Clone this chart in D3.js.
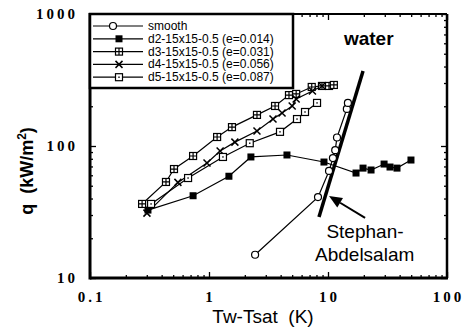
<!DOCTYPE html>
<html><head><meta charset="utf-8">
<script src="https://cdn.jsdelivr.net/npm/d3@7/dist/d3.min.js"></script>
<style>html,body{margin:0;padding:0;background:#fff}</style>
</head><body><svg id="c" width="470" height="328"></svg>
<script>
// ---- data (x = Tw-Tsat in K, y = q in kW/m2) ----
const smooth = [[2.44,15],[8.24,41],[10.2,64.7],[11.0,81],[11.5,93],[11.9,116],[14.4,191],[14.7,212]];
const d2 = [[0.307,32.7],[0.735,42],[1.47,59],[2.25,82.6],[4.52,85.5],[9.25,75.6],[17.2,62.4],[19.7,68],[23,65.8],[29.6,73],[33.2,69.3],[38,68],[49.8,78.3]];
const d3s = [[0.274,36.4],[0.435,53.4],[0.508,66.9],[0.735,84],[1.17,117],[1.56,139],[2.53,172],[3.59,201],[4.7,243],[5.4,248],[7.3,280],[8.9,285],[10.2,285],[11.2,290]];
const d4 = [[0.301,31],[0.548,53],[0.962,74.3],[1.24,91.6],[1.65,107],[2.53,130],[3.45,160],[4.11,178],[5.0,201],[5.4,227],[7.4,261],[8.9,285]];
const d5 = [[0.326,36.4],[0.667,57.2],[1.31,82.6],[2.2,105],[3.95,128],[5.49,160],[6.41,181],[8.09,212]];
const stephan = [[8.4,29],[19.7,370]];
const seriesNames = ["smooth","d2-15x15-0.5 (e=0.014)","d3-15x15-0.5 (e=0.031)","d4-15x15-0.5 (e=0.056)","d5-15x15-0.5 (e=0.087)"];
const seriesMarkers = ["circle","filled","hatched","cross","dotted"];
const xTicks = [0.1,1,10,100];
const xTickLabels = ["0.1","1","10","100"];
const yTicks = [10,100,1000];
const yTickLabels = ["10","100","1000"];
const xTitle = "Tw-Tsat  (K)";
const yTitle = "q  (kW/m";
const annWater = {text:"water", x:13.6, y:582};
const annSA1 = {text:"Stephan-", x:9.7, y:20.1};
const annSA2 = {text:"Abdelsalam", x:7.78, y:13.5};
const arrowFrom = [20.5,28.5], arrowTo = [10.2,41.8];

const series = [smooth,d2,d3s,d4,d5];
const nb = s => s.replace(/ /g,"\u00a0");

const svg = d3.select("#c");
const L=90,R=447,T=14,B=278;
const x = d3.scaleLog().domain([0.1,100]).range([L,R]);
const y = d3.scaleLog().domain([10,1000]).range([B,T]);

const minorX=[], minorY=[];
[0.1,1,10].forEach(d=>{for(let k=2;k<=9;k++) minorX.push(d*k);});
[10,100].forEach(d=>{for(let k=2;k<=9;k++) minorY.push(d*k);});

const g = svg.append("g");
function tickAxis(axisFn, scale, vals, size, transform){
  const a = axisFn(scale).tickValues(vals).tickSize(size).tickFormat("");
  const gg = g.append("g").attr("transform",transform).call(a);
  gg.select(".domain").remove();
  gg.selectAll("line").attr("stroke","#000").attr("stroke-width",1.3);
}
tickAxis(d3.axisBottom, x, xTicks, -6, `translate(0,${B})`);
tickAxis(d3.axisBottom, x, minorX, -3, `translate(0,${B})`);
tickAxis(d3.axisTop, x, xTicks, -6, `translate(0,${T})`);
tickAxis(d3.axisTop, x, minorX, -3, `translate(0,${T})`);
tickAxis(d3.axisLeft, y, yTicks, -6, `translate(${L},0)`);
tickAxis(d3.axisLeft, y, minorY, -3, `translate(${L},0)`);
tickAxis(d3.axisRight, y, yTicks, -6, `translate(${R},0)`);
tickAxis(d3.axisRight, y, minorY, -3, `translate(${R},0)`);

// frame
g.append("line").attr("x1",L).attr("x2",R).attr("y1",T).attr("y2",T).attr("stroke","#000").attr("stroke-width",2);
g.append("line").attr("x1",R).attr("x2",R).attr("y1",T).attr("y2",B).attr("stroke","#000").attr("stroke-width",2.5);
g.append("line").attr("x1",L).attr("x2",R+1).attr("y1",B).attr("y2",B).attr("stroke","#000").attr("stroke-width",3);
g.append("line").attr("x1",L).attr("x2",L).attr("y1",T-1).attr("y2",B+1.5).attr("stroke","#000").attr("stroke-width",3);

// tick labels
const tickFont = "'Liberation Serif','Times New Roman',serif";
g.selectAll(".xl").data(xTicks).enter().append("text")
  .attr("x",d=>x(d)+1.5).attr("y",302).attr("text-anchor","middle")
  .attr("font-family",tickFont).attr("font-weight","bold").attr("font-size",15).attr("letter-spacing",3)
  .text((d,i)=>xTickLabels[i]);
g.selectAll(".yl").data(yTicks).enter().append("text")
  .attr("x",78).attr("y",d=>y(d)+5).attr("text-anchor","end")
  .attr("font-family",tickFont).attr("font-weight","bold").attr("font-size",15).attr("letter-spacing",3)
  .text((d,i)=>yTickLabels[i]);

const sans = "'Liberation Sans',Arial,sans-serif";
// axis titles
g.append("text").attr("x",263).attr("y",323).attr("text-anchor","middle")
  .attr("font-family",sans).attr("font-size",19).text(nb(xTitle));
const yt = g.append("text").attr("transform","translate(33,171) rotate(-90)").attr("text-anchor","middle")
  .attr("font-family",sans).attr("font-weight","bold").attr("font-size",18);
yt.append("tspan").text(nb(yTitle));
yt.append("tspan").attr("dy",-7).attr("font-size",12).text("2");
yt.append("tspan").attr("dy",7).text(")");

// stephan-abdelsalam line
g.append("line").attr("x1",x(stephan[0][0])).attr("y1",y(stephan[0][1]))
  .attr("x2",x(stephan[1][0])).attr("y2",y(stephan[1][1]))
  .attr("stroke","#000").attr("stroke-width",3.5);

// series lines
const line = d3.line().x(d=>x(d[0])).y(d=>y(d[1]));
series.forEach(s=>{
  g.append("path").attr("d",line(s)).attr("fill","none").attr("stroke","#000").attr("stroke-width",1.2);
});

function marker(sel, type, cx, cy){
  const s=3.5;
  if(type==="circle"){
    sel.append("circle").attr("cx",cx).attr("cy",cy).attr("r",3.5).attr("fill","#fff").attr("stroke","#000").attr("stroke-width",1.2);
  } else if(type==="filled"){
    sel.append("rect").attr("x",cx-s).attr("y",cy-s).attr("width",2*s).attr("height",2*s).attr("fill","#000");
  } else if(type==="hatched"){
    sel.append("rect").attr("x",cx-s).attr("y",cy-s).attr("width",2*s).attr("height",2*s).attr("fill","#fff").attr("stroke","#000").attr("stroke-width",1.2);
    sel.append("path").attr("d",`M${cx-s},${cy}H${cx+s}M${cx},${cy-s}V${cy+s}`).attr("stroke","#000").attr("stroke-width",1.2);
  } else if(type==="cross"){
    sel.append("path").attr("d",`M${cx-s},${cy-s}L${cx+s},${cy+s}M${cx-s},${cy+s}L${cx+s},${cy-s}`).attr("stroke","#000").attr("stroke-width",1.5);
  } else if(type==="dotted"){
    sel.append("rect").attr("x",cx-s).attr("y",cy-s).attr("width",2*s).attr("height",2*s).attr("fill","#fff").attr("stroke","#000").attr("stroke-width",1.2);
    sel.append("rect").attr("x",cx-0.7).attr("y",cy-0.7).attr("width",1.4).attr("height",1.4).attr("fill","#000");
  }
}
series.forEach((s,i)=>{
  const mg = g.append("g");
  s.forEach(d=>marker(mg, seriesMarkers[i], x(d[0]), y(d[1])));
});

// annotations
g.append("text").attr("x",x(annWater.x)).attr("y",y(annWater.y)).attr("font-family",sans).attr("font-weight","bold").attr("font-size",19).text(annWater.text);
g.append("text").attr("x",x(annSA1.x)).attr("y",y(annSA1.y)).attr("font-family",sans).attr("font-size",19).text(annSA1.text);
g.append("text").attr("x",x(annSA2.x)).attr("y",y(annSA2.y)).attr("font-family",sans).attr("font-size",19).text(annSA2.text);
{
  const x1=x(arrowFrom[0]), y1=y(arrowFrom[1]), x2=x(arrowTo[0]), y2=y(arrowTo[1]);
  const ang=Math.atan2(y2-y1,x2-x1), hl=13, hw=5.5;
  const bx=x2-hl*Math.cos(ang), by=y2-hl*Math.sin(ang);
  g.append("line").attr("x1",x1).attr("y1",y1).attr("x2",bx).attr("y2",by).attr("stroke","#000").attr("stroke-width",2);
  const px=-Math.sin(ang), py=Math.cos(ang);
  g.append("path").attr("d",`M${x2},${y2}L${bx+hw*px},${by+hw*py}L${bx-hw*px},${by-hw*py}Z`).attr("fill","#000");
}

// legend
const lg = g.append("g");
lg.append("rect").attr("x",L).attr("y",T).attr("width",293-L).attr("height",88-T).attr("fill","#fff").attr("stroke","#000").attr("stroke-width",2.5);
seriesNames.forEach((n,i)=>{
  const yy = 26 + i*12.8;
  lg.append("line").attr("x1",93).attr("x2",143).attr("y1",yy).attr("y2",yy).attr("stroke","#000").attr("stroke-width",1.2);
  marker(lg, seriesMarkers[i], i===0?113:119, yy);
  lg.append("text").attr("x",148).attr("y",yy+4).attr("font-family",sans).attr("font-size",12).text(nb(n));
});
</script></body></html>
